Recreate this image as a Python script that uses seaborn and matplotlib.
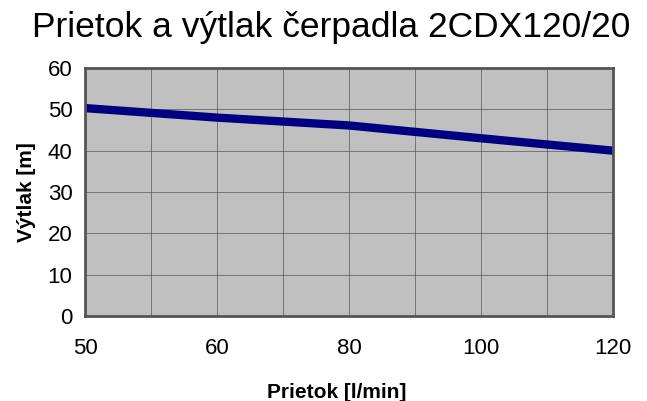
import numpy as np
import matplotlib
matplotlib.use("Agg")
import matplotlib.pyplot as plt
from matplotlib.ticker import MultipleLocator
import seaborn as sns

# data
prietok = ["50", "60", "80", "100", "120"]
vytlak = [50.3, 48.0, 46.1, 43.0, 40.0]

sns.set_style("white")
plt.rcParams['font.family'] = ['Liberation Sans', 'DejaVu Sans']
plt.rcParams['text.color'] = 'black'
plt.rcParams['axes.labelcolor'] = 'black'
plt.rcParams['xtick.color'] = 'black'
plt.rcParams['ytick.color'] = 'black'

fig = plt.figure(figsize=(6.47, 4.01), dpi=100)
ax = fig.add_axes([0.1314, 0.212, 0.816, 0.6184])

sns.pointplot(x=prietok, y=vytlak, order=prietok, color="#000080",
              markers="", linewidth=6, errorbar=None, ax=ax)

ax.set_facecolor("#c0c0c0")
ax.set_xlim(0, len(prietok) - 1)
ax.set_ylim(0, 60)
ax.yaxis.set_major_locator(MultipleLocator(10))
ax.xaxis.set_minor_locator(MultipleLocator(0.5))

ax.grid(True, which="both", color="#444444", linewidth=0.6, alpha=0.7)
ax.set_axisbelow(True)
for s in ax.spines.values():
    s.set_visible(True)
    s.set_color("#555555")
    s.set_linewidth(2)

ax.tick_params(axis="both", which="major", direction="out", length=6,
               width=0.8, color="#888888", labelsize=16, labelcolor="black", pad=3)
ax.tick_params(axis="x", which="minor", length=0)
ax.tick_params(axis="x", pad=10)

ax.set_xlabel("Prietok [l/min]", fontsize=15, fontweight="bold")
ax.set_ylabel("Výtlak [m]", fontsize=15, fontweight="bold")
ax.xaxis.set_label_coords(0.477, -0.27)
ax.yaxis.set_label_coords(-0.093, 0.5)
fig.suptitle("Prietok a výtlak čerpadla 2CDX120/20", fontsize=25.5, x=0.512, y=0.972)

fig.savefig("out.png", dpi=100)
